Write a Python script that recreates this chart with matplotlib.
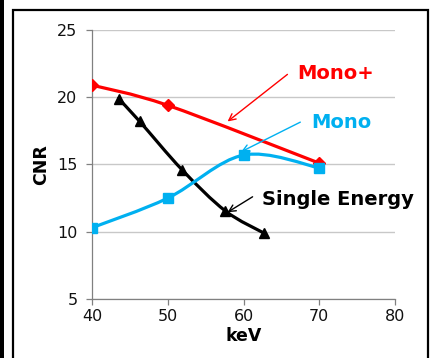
import numpy as np
import matplotlib
matplotlib.use('Agg')
import matplotlib.pyplot as plt
from matplotlib.path import Path
from matplotlib.patches import PathPatch, Rectangle

####################################################################################################

mono_plus_kev = [40, 50, 70]
mono_plus_cnr = [20.9, 19.4, 15.1]

mono_kev = [40, 50, 60, 70]
mono_cnr = [10.3, 12.5, 15.7, 14.75]

single_kev = [43.5, 46.3, 51.9, 57.6, 62.7]
single_cnr = [19.9, 18.2, 14.6, 11.55, 9.9]

x_ticks = [40, 50, 60, 70, 80]
y_ticks = [5, 10, 15, 20, 25]

RED = '#FF0000'
BLUE = '#00B0F0'
BLACK = '#000000'

####################################################################################################

plt.rcParams['font.family'] = ['DejaVu Sans']


def smooth_path(xs, ys):
    # Excel style smoothed line: cubic Bezier through the points
    pts = np.column_stack([xs, ys]).astype(float)
    n = len(pts)
    verts = [pts[0]]
    codes = [Path.MOVETO]
    for i in range(n - 1):
        p_prev = pts[max(i - 1, 0)]
        p0 = pts[i]
        p1 = pts[i + 1]
        p_next = pts[min(i + 2, n - 1)]
        c1 = p0 + (p1 - p_prev) / 6.0
        c2 = p1 - (p_next - p0) / 6.0
        verts += [c1, c2, p1]
        codes += [Path.CURVE4] * 3
    return Path(verts, codes)


figure = plt.figure(figsize=(4.3, 3.58), dpi=100)
axe = figure.add_axes([92 / 430, 1 - 299 / 358, (395 - 92) / 430, (299 - 30) / 358])

for xs, ys, color, marker, size in [
        (mono_plus_kev, mono_plus_cnr, RED, 'D', 6),
        (single_kev, single_cnr, BLACK, '^', 6.5),
        (mono_kev, mono_cnr, BLUE, 's', 7.5),
]:
    axe.add_patch(PathPatch(smooth_path(xs, ys), facecolor='none', edgecolor=color,
                            lw=2.3, zorder=3, capstyle='round'))
    axe.plot(xs, ys, linestyle='none', marker=marker, color=color, markersize=size, zorder=4)

axe.set_xlim(40, 80)
axe.set_ylim(5, 25)
axe.set_xticks(x_ticks)
axe.set_yticks(y_ticks)
axe.grid(axis='y', color='#c8c8c8', lw=1)
axe.set_axisbelow(True)
for side in ('top', 'right'):
    axe.spines[side].set_visible(False)
for side in ('left', 'bottom'):
    axe.spines[side].set_color('#808080')
    axe.spines[side].set_linewidth(0.9)
axe.tick_params(axis='both', colors='#808080', labelcolor='#111111', labelsize=11.5,
                length=4.5, width=0.9)
axe.tick_params(axis='y', pad=6)
axe.tick_params(axis='x', pad=3)
axe.set_xlabel('keV', fontsize=12.5, fontweight='bold', labelpad=2)
axe.set_ylabel('CNR', fontsize=12.5, fontweight='bold', labelpad=5)

# annotations
arrow = dict(arrowstyle='->', lw=1.0, mutation_scale=12, shrinkA=0, shrinkB=0)
label_font = dict(fontsize=14, fontweight='bold', ha='left', va='center')
axe.annotate('', xy=(57.9, 18.2), xytext=(65.8, 21.7), arrowprops=dict(arrow, color=RED))
axe.text(67.1, 21.8, 'Mono+', color=RED, **label_font)
axe.annotate('', xy=(59.7, 15.95), xytext=(67.5, 18.15), arrowprops=dict(arrow, color=BLUE))
axe.text(68.9, 18.1, 'Mono', color=BLUE, **label_font)
axe.annotate('', xy=(57.9, 11.45), xytext=(61.2, 12.6), arrowprops=dict(arrow, color=BLACK))
axe.text(62.4, 12.4, 'Single Energy', color=BLACK, clip_on=False, **label_font)

# frame around the chart
figure.patches.append(Rectangle((13 / 430, -0.05), (428 - 13) / 430, 1.05 - 10 / 358,
                                transform=figure.transFigure, fill=False,
                                edgecolor='black', lw=1.6))
figure.patches.append(Rectangle((0, 0), 4 / 430, 1, transform=figure.transFigure,
                                facecolor='black', edgecolor='none'))

figure.savefig('out.png', dpi=100)
